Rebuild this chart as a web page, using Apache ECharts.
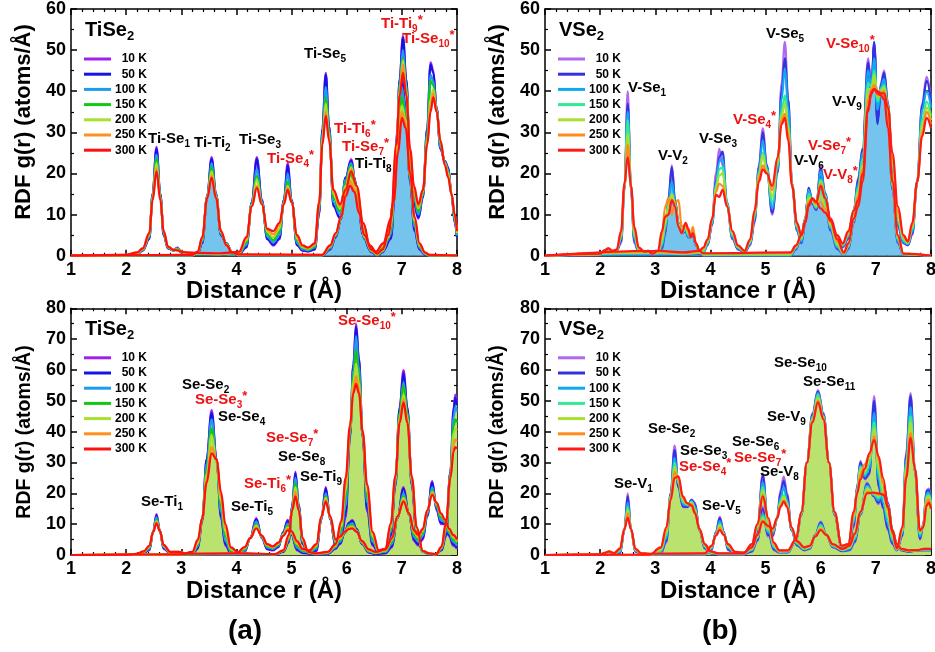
<!DOCTYPE html>
<html><head><meta charset="utf-8">
<script src="https://cdn.jsdelivr.net/npm/echarts@6/dist/echarts.min.js"></script>
<style>html,body{margin:0;padding:0;background:#fff}#c{width:935px;height:652px}</style>
</head><body><div id="c"></div>
<script>
const TEMPS = ['10 K','50 K','100 K','150 K','200 K','250 K','300 K'];

// ---------- TiSe2 (Ti centred), top-left: A = Ti-Se lines, B = Ti-Ti (filled) ----------
const tlAx = [1.0,2.0,2.2,2.3,2.42,2.48,2.55,2.62,
 2.68,2.76,2.86,2.93,3.0,3.1,3.3,3.7,
 3.92,4.05,4.18,4.28,4.37,4.46,4.56,4.67,
 4.78,4.86,4.93,5.0,5.1,5.2,5.3,5.42,
 5.5,5.56,5.62,5.68,5.76,5.88,5.98,6.08,
 6.18,6.3,6.42,6.53,6.66,6.8,6.9,6.96,
 7.02,7.08,7.15,7.22,7.3,7.38,7.46,7.52,
 7.57,7.63,7.7,7.78,7.84,7.9,7.96,8.0];
const tlA10 = [0,0,0.3,1.2,4,15,26.5,15,
 5,1.8,1.3,2,0.8,0.2,0.2,0.3,
 0.5,0.4,2,13,24,13.5,4,2.5,
 4,13.5,22.5,13.5,2.5,1.2,1,1.5,
 10,31,44.5,31.5,12,9,19,23.5,
 15,5,1.5,0.3,1.2,4,23,43,
 53.5,43,21,12.5,9,14,31,47,
 45,36,26,23,21.5,15,8,4.5];
const tlA50 = [0,0,0.3,1.3,4.2,15,26,15,
 5,1.8,1.3,1.9,0.8,0.3,0.2,0.3,
 0.5,0.5,2.1,13,23.5,13.5,4.1,2.7,
 4.2,13.5,22,13.5,2.6,1.3,1.1,1.6,
 10.2,31,44,31.5,12.2,9.2,19,23,
 15.2,5.1,1.5,0.4,1.3,4.2,23.2,42.8,
 53,42.8,21.2,12.8,9.3,14.2,31,46.5,
 44.5,35.8,26,23,21.4,15,8.1,4.6];
const tlA100 = [0,0,0.4,1.4,4.5,14.8,24.5,14.8,
 5.3,1.9,1.3,1.8,0.9,0.4,0.3,0.3,
 0.5,0.6,2.6,12.8,21,13.2,4.7,3.2,
 5,13.3,20,13.3,3.1,1.6,1.3,2,
 10.8,30,41,30.6,13,10,18.5,22.5,
 15.6,5.8,1.8,0.5,1.7,5.2,24,42,
 50,41.5,22.5,14,10,14.6,30,44,
 42.5,35.8,26.4,22.8,21,15,8.5,4.9];
const tlA150 = [0,0.1,0.5,1.5,4.8,14.5,23.5,14.5,
 5.5,2,1.3,1.7,0.9,0.5,0.4,0.4,
 0.6,0.7,3.2,12.5,19.5,12.9,5.3,3.8,
 5.8,13,18,13.1,3.7,1.9,1.5,2.3,
 11.5,29,38.5,29.8,14,10.8,18,22,
 16,6.5,2,0.7,2.1,6.3,25,41,
 48,40.8,23.5,15,10.8,15,29,42.5,
 41.5,35.5,27,22.6,20.5,15,9,5.2];
const tlA200 = [0,0.1,0.6,1.6,5,14.2,22.5,14.2,
 5.7,2.1,1.4,1.5,1,0.6,0.5,0.4,
 0.6,0.8,3.7,12.3,18.5,12.7,5.8,4.5,
 6.6,12.8,17,13,4.2,2.1,1.7,2.6,
 12.2,28.5,37,29,15,11.5,17,21.5,
 16.4,7.1,2.2,0.8,2.5,7.3,25.8,40,
 47.5,40,24.5,15.8,11.5,15.4,28,38,
 40.5,35.3,27.5,22.4,20,15,9.4,5.5];
const tlA250 = [0,0.2,0.7,1.7,5.3,13.8,21.2,13.8,
 5.9,2.2,1.4,1.4,1,0.7,0.6,0.5,
 0.7,0.9,4.1,12.1,17,12.6,6.2,5.2,
 7.4,12.6,16.5,13,4.6,2.3,1.9,2.8,
 12.6,27.8,35,28.5,15.5,12,16.5,21,
 16.7,7.6,2.4,0.9,2.8,8.2,26.4,39.5,
 46.5,39.5,25.3,16.5,12,15.7,27.5,36.5,
 39.5,35.2,27.8,22.2,19.5,15,9.7,5.8];
const tlA300 = [0,0.2,0.8,1.8,5.5,13.5,20.5,13.5,
 6,2.2,1.4,1.3,1,0.8,0.7,0.6,
 0.8,1,4.5,12,16.5,12.5,6.5,6,
 8,12.5,16,13,5,2.5,2,3,
 13,27,34,28,16,12.5,16,20.5,
 17,8,2.5,1,3,9,27,39,
 44.5,39,26,17,12.5,16,27,35,
 38.5,35,28,22,19,15,10,6];

const tlBx = [1.0,3.2,3.3,3.38,3.47,3.55,3.63,3.72,
 3.82,3.92,4.05,5.55,5.7,5.8,5.9,5.98,
 6.06,6.14,6.22,6.32,6.45,6.55,6.65,6.75,
 6.85,6.93,7.0,7.07,7.15,7.23,7.32,7.42,
 7.5,8.0];
const tlB10 = [0,0,0.6,3,14.5,24,15,5,
 3,0.8,0,0,1.5,4.5,9,17,
 22.5,19,11,4,0.8,0,0.8,3.5,
 13,32,43.5,36,18,6,1.5,0.2,
 0,0];
const tlB50 = [0,0,0.6,3.1,14.5,23.5,15,5,
 3,0.8,0,0,1.6,4.6,9,16.8,
 22.2,18.9,11,4.1,0.9,0,0.9,3.6,
 13,31.5,43,35.8,18.2,6.2,1.6,0.3,
 0,0];
const tlB100 = [0,0.1,0.7,3.4,14.4,22.5,14.8,5.3,
 2.9,0.8,0.1,0,1.8,4.8,9.1,16.3,
 21.2,18.3,10.9,4.2,1,0.1,1,3.9,
 13,30,41,35,18.7,7,1.9,0.4,
 0,0];
const tlB150 = [0,0.1,0.8,3.8,14.3,21.5,14.6,5.5,
 2.8,0.8,0.1,0.1,2,5,9.2,15.8,
 20,17.5,10.8,4.4,1.1,0.2,1.1,4.2,
 13,28.5,38.5,34,19.1,7.8,2.2,0.5,
 0.1,0];
const tlB200 = [0,0.1,0.9,4.1,14.2,20.5,14.4,5.7,
 2.7,0.8,0.2,0.1,2.2,5.2,9.3,15.3,
 19,16.8,10.7,4.6,1.2,0.3,1.2,4.5,
 13,27.5,36.5,33,19.5,8.5,2.5,0.6,
 0.1,0];
const tlB250 = [0,0.2,1,4.3,14.1,19.5,14.2,5.9,
 2.6,0.8,0.2,0.2,2.4,5.4,9.4,14.9,
 18,16.2,10.6,4.8,1.4,0.4,1.4,4.8,
 13,26,35,32,19.8,9,2.8,0.7,
 0.2,0];
const tlB300 = [0,0.2,1,4.5,14,19,14,6,
 2.5,0.8,0.3,0.2,2.5,5.5,9.5,14.5,
 17,15.5,10.5,5,1.5,0.5,1.5,5,
 13,25,33.5,31,20,9.5,3,0.8,
 0.2,0];

// ---------- VSe2 (V centred), top-right: A = V-Se lines, B = V-V (filled) ----------
const trAx = [1.0,2.0,2.08,2.15,2.22,2.3,2.38,2.44,
 2.5,2.56,2.62,2.7,2.8,2.87,2.95,3.05,
 3.5,3.8,3.87,3.95,4.03,4.1,4.16,4.22,
 4.3,4.4,4.5,4.62,4.72,4.8,4.88,4.95,
 5.02,5.12,5.22,5.29,5.35,5.41,5.48,5.57,
 5.65,5.72,5.78,5.85,5.92,6.0,6.08,6.18,
 6.3,6.4,6.5,6.6,6.68,6.76,6.86,6.92,
 6.97,7.03,7.09,7.15,7.22,7.3,7.4,7.5,
 7.58,7.66,7.75,7.84,7.92,8.0];
const trA10 = [0,0.3,1.2,1.6,1,1.2,3,16,
 40,16,3,0.8,0.8,1.2,0.5,0.2,
 0.2,0.5,0.8,2.5,8,20,26,22,
 12,4,1.5,0.8,2.5,8,22,31,
 22,10,20,42,52,38,17,6,
 3,8,16.5,13,12,22,15,7,
 3,2,4,11,19,26,48,40,
 51,33,42,45,37,20,7,3,
 2.5,5,18,37,43.5,38];
const trA50 = [0,0.3,1.2,1.6,1,1.2,3.5,16.2,
 37,16.2,3.5,0.9,0.8,1.2,0.5,0.3,
 0.2,0.5,0.8,2.6,7.5,18,24,25.3,
 13,4.2,1.6,0.8,2.7,8.5,21.5,30,
 22,10.5,20.5,40,48,38,17.5,6.2,
 3.1,8.2,16.5,13.2,12.2,21,15.2,7.2,
 3.2,2.2,4.2,11,18.5,26,47,40,
 52,32,41.5,44.5,37,20.5,7.3,3.1,
 2.6,5.3,18,36.5,42.5,37.5];
const trA100 = [0,0.3,1.2,1.6,1,1.3,4,16.4,
 35,16.4,4,1,0.8,1.2,0.5,0.4,
 0.3,0.6,0.9,2.8,7.8,17.5,23,23.5,
 12.8,4.5,1.8,0.9,2.9,9,21,28,
 21.5,11.5,21,38,45.5,36,17.5,6.5,
 3.4,8.3,16,13.2,12.3,20.5,15,7.4,
 3.5,2.4,4.6,11,17.5,25,45,41,
 48,36,41,43,36.5,21,7.8,3.3,
 2.8,5.8,18,35.5,40,36];
const trA150 = [0,0.3,1.3,1.7,1.1,1.3,4.5,16.6,
 33,16.6,4.8,1.3,0.9,1.2,0.5,0.6,
 0.4,0.7,1.1,3.2,8.3,17,21,21.5,
 12.5,5,2,1,3.2,9.8,20,25,
 21,13,22,35,39,32,17.5,7,
 3.9,8.5,15,13.3,12.5,18.5,14.6,7.8,
 3.9,2.6,5,11,16.5,23.5,42,41,
 45,38,40.5,41.5,36.3,21.8,8.5,3.8,
 3,6.5,18,33,37.5,34];
const trA200 = [0,0.4,1.3,1.7,1.1,1.4,5,16.8,
 29.5,16.8,5.5,1.5,0.9,1.2,0.5,0.8,
 0.5,0.8,1.4,3.5,8.6,16.3,19.5,20,
 12.3,5.3,2.2,1.1,3.5,10.3,19.5,24.5,
 20.5,14.5,22.8,34,37,31,17.3,7.4,
 4.3,8.4,14,13.5,12.7,18,14.4,8.2,
 4.3,2.8,5.4,11,15.5,22,40.5,40.5,
 44,39,40,41,36.2,22.8,9.5,4.2,
 3.2,7,18,31.5,36,33];
const trA250 = [0,0.4,1.3,1.8,1.2,1.5,5.5,17,
 27,17,6.2,1.8,1,1.1,0.5,1,
 0.6,1,1.7,3.8,8.8,15.5,17.5,17,
 12.2,5.7,2.4,1.2,3.8,10.7,19,22,
 20.3,16,23.5,33,34.5,29.5,17.2,7.7,
 4.7,8.2,13,13.8,12.9,17.5,14.2,8.6,
 4.6,2.9,5.7,11,14.5,21,38,40.5,
 41.5,40,39.8,40,36.1,23.9,10.8,4.6,
 3.4,7.5,18,30,35,32];
const trA300 = [0,0.5,1.3,1.8,1.2,1.5,6,17.5,
 24,17,7,2,1,1.1,0.5,1.2,
 0.8,1.2,2,4,9,14.8,14.3,16,
 12,6,2.5,1.2,4,11,18,21,
 20,17,24,32,33.5,28,17,8,
 5,8,12,14,13,17,14,9,
 5,3,6,11,13.5,20,36,39.5,
 40.5,40,39.5,39.5,36,25,12,5,
 3.5,8,18,29,33.5,31];

const trBx = [1.0,3.05,3.12,3.18,3.24,3.3,3.36,3.42,
 3.48,3.55,3.6,3.64,3.68,3.74,3.8,3.87,
 5.45,5.55,5.65,5.72,5.78,5.85,5.92,6.0,
 6.08,6.18,6.3,6.42,6.5,6.6,6.68,6.76,
 6.86,6.92,6.97,7.03,7.09,7.15,7.22,7.3,
 7.4,7.5,8.0];
const trB10 = [0,0.2,1.5,5,14,22,13,8,
 5.5,6,4.5,4.5,5,2.5,1,0,
 0,1.5,5,9,16,12.5,11,20.5,
 14,6,1.5,0.2,1.5,8,17,24,
 46,39,51,33,41,44,35,16,
 3,0.3,0];
const trB50 = [0,0.3,1.8,5.5,14,21.5,13.5,8,
 5.5,6,4.5,4.5,5,2.5,1,0,
 0,1.6,5,9,15.5,12.7,11.2,20,
 13.8,6.2,1.7,0.3,1.7,8.1,16.5,23.5,
 45,39.5,51.5,32.5,40.5,43.5,34.5,16.2,
 3.2,0.3,0];
const trB100 = [0,0.4,2.2,6.2,13.5,18,13,8,
 5.5,6.2,4.5,4.6,5.2,2.6,1,0.1,
 0.1,1.8,5,8.9,15,12.9,11.5,18.5,
 13.3,6.5,2,0.3,1.9,8.3,15.5,22.5,
 43,40,47.5,35.5,40,42,34,16.5,
 3.5,0.3,0];
const trB150 = [0,0.6,3,7.3,12.8,15,12.5,7.7,
 5.5,6.6,5,4.6,6,2.7,1.1,0.2,
 0.2,2,5,8.8,14.5,13.1,11.8,16.5,
 12.7,7,2.4,0.4,2.2,8.5,14.5,21.5,
 40.5,40,44.5,37.5,39.5,40.5,33.5,17,
 3.9,0.4,0];
const trB200 = [0,0.8,3.8,8,12,15,12.5,7.5,
 5.5,7,5.5,4.6,6.3,2.8,1.1,0.4,
 0.4,2.2,5,8.7,14,13.4,12.2,14.5,
 12,7.5,2.9,0.5,2.5,8.7,13.5,20.5,
 39,40,43,38.5,39.3,39.5,32.5,17.4,
 4.3,0.4,0];
const trB250 = [0,1,5,12,14,10,13,13.5,
 7,7.5,6,4.5,7,2.9,1.2,0.5,
 0.6,2.3,5,8.6,13.2,13.6,12.6,13,
 11.3,8,3.4,0.6,2.7,8.9,12.7,19.2,
 37,40,41.5,39,39.1,38.8,31.8,17.7,
 4.6,0.5,0];
const trB300 = [0,1.2,6,9.5,10,13.5,12,7,
 5.5,8,6.5,4.5,5.5,3,1.2,0.6,
 0.8,2.5,5,8.5,12.5,13.8,13,11.5,
 10.5,8.5,4,0.8,3,9,12,18,
 35,40,40.5,39.5,39,38,31,18,
 5,0.5,0];

// ---------- TiSe2 (Se centred), bottom-left: A = Se-Se (filled), B = Se-Ti ----------
const blAx = [1.0,3.0,3.2,3.3,3.38,3.46,3.55,3.64,
 3.72,3.8,3.9,4.05,4.7,4.85,4.95,5.01,
 5.07,5.13,5.2,5.3,5.45,5.65,5.8,5.9,
 5.98,6.06,6.12,6.17,6.22,6.29,6.37,6.47,
 6.58,6.7,6.8,6.88,6.96,7.03,7.1,7.18,
 7.27,7.38,7.5,7.62,7.72,7.8,7.88,7.94,
 7.97,8.0];
const blA10 = [0,0,0.2,2,11,31,47,31,
 12,3,0.5,0.2,0.2,1,4,16,
 27,16,3.5,0.5,0.2,0.3,2,5,
 12,38,62,75,64,38,14,3,
 0.5,1.5,6,22,48,60,48,22.5,
 6,1,0.3,0.3,1.5,6,27,48,
 52,49];
const blA50 = [0,0,0.3,2.3,11.5,31,46,31,
 12.5,3.5,0.6,0.2,0.2,1.1,4.3,16,
 26.5,16,3.8,0.6,0.2,0.4,2.2,5.8,
 13.5,39,61.5,74,63.5,38.5,15,3.5,
 0.6,1.6,6.6,22.5,47.5,59,47.5,23,
 6.5,1.1,0.3,0.3,1.7,6.6,27,47,
 51,48.5];
const blA100 = [0,0.1,0.4,2.8,12,29.5,44,30.5,
 14,4.5,1,0.3,0.2,1.3,4.8,15.5,
 25,15.5,4.2,0.7,0.3,0.5,2.5,7,
 16,39.5,60,71,61,38.5,17,4.3,
 0.8,1.7,7.5,23,46,56,46,23.5,
 7,1.1,0.3,0.3,2,7.5,26.5,45,
 48,46.5];
const blA150 = [0,0.1,0.6,3.3,12,27.5,41,30,
 16,6,1.4,0.3,0.2,1.3,5.2,15,
 23.5,15.2,4.5,0.8,0.3,0.7,2.8,8.2,
 19,40,57.5,66.5,58,39,19,5.2,
 1,1.8,8.3,23.8,46,55,46,24,
 7.6,1.2,0.4,0.3,2.2,8.5,26,42,
 44,43];
const blA200 = [0,0.1,0.8,3.8,12,26,39,30,
 17.5,7.5,1.8,0.4,0.3,1.4,5.6,14.8,
 22,14.8,4.8,0.9,0.4,0.8,3,9.3,
 21,41,56,62,56,39.5,20.5,6.2,
 1.2,1.9,9,24.5,44.5,52,44.5,24.5,
 8.2,1.2,0.4,0.2,2.4,9.5,25.5,39.5,
 41,40.5];
const blA250 = [0,0.2,0.9,4.4,12,24.5,35,31,
 19,8.8,2.2,0.5,0.3,1.5,6,14.5,
 20.5,14.6,5.2,1,0.5,0.9,3.3,10.2,
 23,41.5,54,58,54,39.8,21.7,7,
 1.4,2,9.7,25,43.5,50.5,43.5,25,
 8.6,1.3,0.5,0.2,2.6,10,25,36,
 37.5,37];
const blA300 = [0,0.2,1,5,12,23.5,33,31,
 20.5,10,2.5,0.5,0.3,1.5,6.5,14.5,
 19,14.5,5.5,1,0.5,1,3.5,11,
 25,42,52.5,55.5,52.5,40,22.8,7.5,
 1.5,2,10.3,25.4,42.8,49.5,42.8,25.4,
 9,1.3,0.5,0.2,2.7,10.6,25,33.7,
 35,34.5];

const blBx = [1.0,2.0,2.2,2.32,2.42,2.49,2.55,2.61,
 2.68,2.8,2.95,3.1,4.0,4.15,4.25,4.36,
 4.46,4.56,4.66,4.76,4.85,4.93,5.0,5.1,
 5.2,5.32,5.45,5.54,5.62,5.7,5.8,5.88,
 5.96,6.04,6.1,6.18,6.28,6.4,6.52,6.7,
 6.82,6.92,7.03,7.13,7.22,7.3,7.38,7.46,
 7.55,7.63,7.71,7.78,7.86,7.93,8.0];
const blB10 = [0,0,0.2,0.8,1.5,7.5,13.3,8,
 2,0.5,0.8,0.1,0.1,1,5.5,12,
 5.5,1.8,1.5,2.5,7.5,11.4,6.5,1.5,
 0.6,0.5,1.2,11.5,22,11.5,2.5,3.5,
 7,10.5,11.3,8.5,3.5,0.8,0.3,0.5,
 2.5,12,22,13,4.5,3,5,12.5,
 24,14.5,10,10,6,3,2];
const blB50 = [0,0,0.2,0.8,1.7,7.5,12.8,8,
 2.2,0.6,0.8,0.1,0.1,1.2,5.5,11.6,
 5.6,2,1.7,2.7,7.3,11,6.6,1.8,
 0.8,0.6,1.5,11.6,21.5,11.6,2.8,3.8,
 7.1,10.3,11,8.3,3.6,0.9,0.4,0.7,
 2.9,12,21.5,13,5,3.5,5.5,12.8,
 23.5,15,10.5,10.2,6.4,3.5,2.4];
const blB100 = [0,0,0.3,0.9,2,7.5,12.2,7.9,
 2.5,0.7,0.9,0.2,0.2,1.4,5.5,10.8,
 5.7,2.4,2,3,7,10.2,6.8,2.4,
 1.1,0.9,2,11.8,20,11.8,3.3,4.3,
 7.2,9.8,10.3,8,3.8,1.1,0.6,1,
 3.6,12.1,20,13.1,5.8,4.3,6.2,13.3,
 22,15.5,11.3,10.6,7,4.3,3];
const blB150 = [0,0,0.3,1,2.3,7.5,11.5,7.8,
 2.8,0.8,0.9,0.2,0.3,1.8,5.5,10,
 5.9,2.8,2.3,3.3,6.8,9.5,7.1,3,
 1.4,1.1,2.5,12,19,12,3.9,4.8,
 7.3,9.4,9.8,7.8,4,1.3,0.7,1.2,
 4.3,12.2,19,13.2,6.6,5,7,13.8,
 21,16,12.2,11,7.5,5,3.8];
const blB200 = [0,0,0.3,1.1,2.6,7.5,11,7.8,
 3,0.9,1,0.3,0.4,2.2,5.5,9.5,
 6,3.1,2.5,3.6,6.6,9,7.3,3.6,
 1.7,1.3,2.9,12.2,18.5,12.2,4.4,5.3,
 7.4,9,9.3,7.7,4.2,1.5,0.8,1.4,
 4.9,12.3,18.5,13.3,7.3,5.7,7.7,14.1,
 20.5,16.5,13,11.3,8,5.8,4.3];
const blB250 = [0,0.1,0.4,1.2,2.8,7.5,10.6,7.8,
 3.2,1,1,0.4,0.5,2.4,5.5,9,
 6.2,3.3,2.7,3.8,6.3,8.5,7.5,4,
 1.9,1.4,3.2,12.4,17.8,12.4,4.7,5.6,
 7.5,8.7,8.9,7.6,4.3,1.7,0.9,1.6,
 5.2,12.4,17.8,13.4,7.6,6.1,8.1,14.3,
 20,16.8,13.3,11.4,8.3,6.2,4.7];
const blB300 = [0,0.1,0.4,1.2,3,7.5,10.3,7.8,
 3.3,1,1,0.4,0.5,2.6,5.5,8.6,
 6.3,3.5,2.8,4,6.2,8,7.7,4.5,
 2,1.5,3.5,12.5,17.3,12.6,5,6,
 7.5,8.4,8.6,7.5,4.5,1.8,1,1.8,
 5.5,12.5,17.3,13.5,8,6.5,8.5,14.5,
 19.5,17,13.5,11.5,8.5,6.5,5];

// ---------- VSe2 (Se centred), bottom-right: A = Se-Se (filled), B = Se-V ----------
const brAx = [1.0,2.9,3.1,3.2,3.28,3.35,3.42,3.5,
 3.58,3.66,3.72,3.8,3.9,4.0,4.15,4.6,
 4.75,4.85,4.95,5.05,5.15,5.25,5.4,5.55,
 5.65,5.75,5.85,5.95,6.05,6.15,6.25,6.38,
 6.5,6.6,6.66,6.72,6.8,6.88,6.97,7.05,
 7.13,7.22,7.3,7.38,7.48,7.55,7.63,7.71,
 7.8,7.86,7.92,7.96,8.0];
const brA10 = [0,0,0.5,4,20,35.5,22,15.5,
 15.5,18,17,8,2,0.5,0.2,0.2,
 1.5,7,26.5,7,1.5,0.8,0.8,4.5,
 13,30,46,53.5,46,30,13,2.5,
 3,9,22,30.5,24.5,26,51.5,22,
 15,8,3.5,1.5,6,33,52.5,27,
 5,10,21,21.5,18];
const brA50 = [0,0,0.7,4.5,20,34,22,15.8,
 15.6,17.8,16.5,8,2.2,0.6,0.2,0.2,
 1.8,7.5,25.5,7.5,1.8,0.9,0.9,4.6,
 13.1,30,45.5,53,45.6,30,13.1,2.6,
 3.1,9.5,22,30,24.8,26.5,50,22.5,
 15.5,8.5,3.8,1.6,6.3,32.5,51.5,27,
 5.3,10,20.8,21,17.8];
const brA100 = [0,0,1,5.5,19.5,31.5,23,16.5,
 16,17.5,15.8,8.1,2.5,0.7,0.3,0.3,
 2.2,8,23.5,8.5,2.3,1,1,4.7,
 13.3,30,45,52.5,45.2,30,13.3,2.7,
 3.2,10.5,21.5,29,25.5,28,46,24.5,
 17,10,4.5,1.7,7,31,48,27.3,
 6,9.8,20,20.3,17.3];
const brA150 = [0,0,1.4,6.5,19,30,23.5,17.2,
 16.3,17.2,15,8.2,2.8,0.8,0.3,0.3,
 2.6,8.6,22,9.5,2.7,1.1,1.2,4.8,
 13.5,30,44.5,52,44.8,30,13.5,2.8,
 3.3,11.5,21,28.5,26.3,29.5,43,26.5,
 19,11.5,5.2,1.8,7.5,29.5,45,27.5,
 6.8,9.6,19,19.5,16.8];
const brA200 = [0,0,1.8,7.3,18.8,28.5,24,17.8,
 16.5,16.8,14.5,8.3,3.1,0.9,0.4,0.4,
 2.9,9.2,21,10.5,3.2,1.2,1.3,4.9,
 13.7,30,44,51,44.5,30,13.7,2.9,
 3.4,12.3,20.7,28,27,31,41,28.5,
 21,13,6.2,1.9,8,28,43,27.7,
 7.3,9.4,18.5,19,16.3];
const brA250 = [0,0,2.2,8.2,18.4,27,24.8,18.4,
 16.7,16.4,14,8.4,3.3,1.1,0.5,0.5,
 3.2,9.6,19.5,11.3,3.6,1.4,1.4,5,
 13.9,30,43.5,50,44.2,30,13.9,3,
 3.5,13.2,20.3,26,29.5,32,38.5,31,
 23,14.5,6.9,2.1,8.5,26,39.5,27.9,
 7.7,9.2,17.5,18,15.5];
const brA300 = [0,0.1,2.5,9,18,25,25.5,19,
 16.8,16,13.5,8.5,3.5,1.2,0.5,0.5,
 3.5,10,19,12,4,1.5,1.5,5,
 14,30,43,49.5,44,30,14,3,
 3.5,14,20,24.5,28,33,37.3,32,
 25,16,7.5,2.2,9,25,38,28,
 8,9,16,17,15];

const brBx = [1.0,2.0,2.1,2.16,2.25,2.36,2.44,2.5,
 2.56,2.64,2.75,2.9,3.9,4.02,4.1,4.17,
 4.24,4.32,4.45,4.6,4.75,4.85,4.95,5.04,
 5.13,5.21,5.27,5.33,5.39,5.47,5.57,5.7,
 5.8,5.9,6.0,6.1,6.22,6.4,6.52,6.62,
 6.72,6.84,6.96,7.05,7.14,7.22,7.3,7.38,
 7.46,7.6,7.75,7.88,8.0];
const brB10 = [0,0,0.3,0.5,0.3,0.5,8,20,
 8,1,0.2,0.1,0.1,1.5,7.5,12.4,
 7.5,1.5,0.4,0.3,1,4.5,15.7,6,
 6,12,21,25.4,20,8,3,1.5,
 2,6.5,10.8,6.6,2.5,1.2,1.5,4,
 13,23.5,19,16.5,22,17,8,3.5,
 1.5,1,1.5,1.5,1.5];
const brB50 = [0,0,0.3,0.6,0.3,0.7,8,19,
 8.2,1.2,0.3,0.2,0.2,1.8,7.3,12,
 7.5,1.8,0.5,0.4,1.2,4.8,15,6.5,
 6.4,11.8,20,24,19.2,8.1,3.2,1.6,
 2.1,6.4,10.5,6.6,2.6,1.3,1.7,4.4,
 13.1,23,19.2,17,22,16.8,8,3.5,
 1.6,1.1,1.5,1.6,1.6];
const brB100 = [0,0.1,0.4,0.7,0.4,1,8.1,17,
 8.2,1.4,0.3,0.2,0.2,2.1,7,11,
 7.2,2.3,0.6,0.5,1.5,5.3,13.5,7.3,
 7,11.8,18.5,22,18,8.3,3.5,1.8,
 2.3,6.3,10,6.6,2.8,1.5,2,5,
 13.3,22.5,19.5,17.7,21.5,16.5,8,3.5,
 1.7,1.2,1.5,1.7,1.7];
const brB150 = [0,0.1,0.5,0.8,0.4,1.4,8.2,15.5,
 8.3,1.6,0.4,0.3,0.3,2.4,6.8,10,
 7,2.7,0.7,0.6,1.8,5.7,12.5,8,
 7.6,11.9,17.5,19.5,17,8.5,3.8,2,
 2.5,6.2,9.5,6.5,3,1.6,2.3,5.6,
 13.5,22,19.7,18.5,21,16.2,8,3.5,
 1.8,1.3,1.5,1.8,1.8];
const brB200 = [0,0.1,0.6,1,0.5,1.8,8.3,14.5,
 8.3,1.7,0.4,0.3,0.4,2.6,6.6,9.5,
 6.8,3,0.8,0.7,2.1,6,11.8,8.6,
 8,12,16.8,19,16.5,8.7,4.1,2.2,
 2.7,6.1,9,6.5,3.2,1.8,2.6,6.2,
 13.8,21.5,20,19.2,20.5,15.9,8,3.5,
 1.9,1.4,1.6,1.9,1.9];
const brB250 = [0,0.2,0.7,1.1,0.5,2.2,8.4,13.5,
 8.4,1.9,0.5,0.4,0.5,2.8,6.4,8.8,
 6.6,3.3,0.9,0.8,2.3,6.3,11.2,9.1,
 8.3,12,16,17.8,16,8.9,4.3,2.4,
 2.8,6,8.5,6.5,3.4,1.9,2.8,6.6,
 13.9,20.5,20.1,19.6,20,15.7,8,3.5,
 2,1.5,1.6,2,2];
const brB300 = [0,0.2,0.8,1.2,0.6,2,8.4,12.1,
 8.4,2,0.5,0.4,0.5,3,6.3,8.1,
 6.5,3.5,1,0.8,2.5,6.5,10.8,9.5,
 8.6,12,15.5,17.3,15.5,9,4.5,2.5,
 3,6,8.1,6.5,3.5,2,3,7,
 14,20,20.2,20,19.5,15.5,8,3.5,
 2,1.5,1.6,2,2];

// ---------- styling ----------
const FONT = "'Liberation Sans', Arial, Helvetica, sans-serif";
const COL_TI = ['#a020f0','#1414e6','#1e9bf0','#12c812','#a8e02c','#ff9020','#ff1010'];
const COL_V  = ['#b068f0','#3232e0','#12a8f0','#30eb90','#a8e030','#ff8c1a','#ff1a1a'];
const RED = '#ee1111';
const SMOOTH = 0.4;

const panels = [
  {ymax:60, colors:COL_TI, ax:tlAx, ay:[tlA10,tlA50,tlA100,tlA150,tlA200,tlA250,tlA300],
   bx:tlBx, by:[tlB10,tlB50,tlB100,tlB150,tlB200,tlB250,tlB300], fill:'B', fillColor:'#74c4ee'},
  {ymax:60, colors:COL_V, ax:trAx, ay:[trA10,trA50,trA100,trA150,trA200,trA250,trA300],
   bx:trBx, by:[trB10,trB50,trB100,trB150,trB200,trB250,trB300], fill:'B', fillColor:'#74c4ee'},
  {ymax:80, colors:COL_TI, ax:blAx, ay:[blA10,blA50,blA100,blA150,blA200,blA250,blA300],
   bx:blBx, by:[blB10,blB50,blB100,blB150,blB200,blB250,blB300], fill:'A', fillColor:'#b9e26e'},
  {ymax:80, colors:COL_V, ax:brAx, ay:[brA10,brA50,brA100,brA150,brA200,brA250,brA300],
   bx:brBx, by:[brB10,brB50,brB100,brB150,brB200,brB250,brB300], fill:'A', fillColor:'#b9e26e'}
];
const gridBoxes = [
  {left:71, top:9, width:386, height:246.7},
  {left:545, top:9, width:386, height:246.7},
  {left:71, top:308.3, width:386, height:246.7},
  {left:545, top:308.3, width:386, height:246.7}
];

function zip(xs, ys){
  if (xs.length !== ys.length) console.error('length mismatch', xs.length, ys.length);
  const n = Math.min(xs.length, ys.length);
  const out = [];
  for (let i=0;i<n;i++) out.push([xs[i], ys[i]]);
  return out;
}

const xAxes = [], yAxes = [], series = [], legends = [];
panels.forEach((p, gi) => {
  const line = {show:true, onZero:false, lineStyle:{color:'#000', width:1.5}};
  const tick = {show:true, inside:true, length:6, lineStyle:{color:'#000', width:1.5}};
  xAxes.push({gridIndex:gi, type:'value', position:'bottom', min:1, max:8, interval:1,
    axisLine:line, axisTick:tick, splitLine:{show:false},
    minorTick:{show:true, splitNumber:5, length:3, lineStyle:{color:'#000', width:1.2}},
    axisLabel:{fontSize:18, fontWeight:'bold', color:'#000', fontFamily:FONT, margin:5},
    name:'Distance r (Å)', nameLocation:'middle', nameGap:23,
    nameTextStyle:{fontSize:24, fontWeight:'bold', color:'#000', fontFamily:FONT}});
  xAxes.push({gridIndex:gi, type:'value', position:'top', min:1, max:8, interval:1,
    axisLine:line, axisTick:tick, splitLine:{show:false},
    minorTick:{show:true, splitNumber:5, length:3, lineStyle:{color:'#000', width:1.2}},
    axisLabel:{show:false}});
  yAxes.push({gridIndex:gi, type:'value', position:'left', min:0, max:p.ymax, interval:10,
    axisLine:line, axisTick:tick, splitLine:{show:false},
    minorTick:{show:true, splitNumber:2, length:3, lineStyle:{color:'#000', width:1.2}},
    axisLabel:{fontSize:18, fontWeight:'bold', color:'#000', fontFamily:FONT, margin:5}});
  yAxes.push({gridIndex:gi, type:'value', position:'right', min:0, max:p.ymax, interval:10,
    axisLine:line, axisTick:tick, splitLine:{show:false},
    minorTick:{show:true, splitNumber:2, length:3, lineStyle:{color:'#000', width:1.2}},
    axisLabel:{show:false}});
  const xi = gi*2, yi = gi*2;
  const fillData = p.fill === 'B' ? zip(p.bx, p.by[0]) : zip(p.ax, p.ay[0]);
  series.push({type:'line', xAxisIndex:xi, yAxisIndex:yi, data:fillData, smooth:SMOOTH,
    smoothMonotone:'x', showSymbol:false, symbol:'none', silent:true, z:1,
    lineStyle:{width:0, opacity:0}, areaStyle:{color:p.fillColor, opacity:1}});
  for (let t=0; t<7; t++){
    const common = {type:'line', name:TEMPS[t], xAxisIndex:xi, yAxisIndex:yi, smooth:SMOOTH,
      smoothMonotone:'x', showSymbol:false, symbol:'none', z:2, color:p.colors[t],
      lineStyle:{width:2.2, color:p.colors[t]}, emphasis:{disabled:true}};
    series.push(Object.assign({}, common, {data:zip(p.ax, p.ay[t])}));
    series.push(Object.assign({}, common, {data:zip(p.bx, p.by[t])}));
  }
  const b = gridBoxes[gi];
  legends.push({orient:'vertical', left: b.left + 13, top: b.top + (gi<2 ? 44 : 43.5),
    itemWidth:27, itemHeight:3, itemGap:3.2, padding:0, icon:'rect', selectedMode:false,
    data: TEMPS.map((n,i)=>({name:n, itemStyle:{color:p.colors[i]}})),
    formatter: n => '{a|' + n + '}',
    textStyle:{fontSize:12, fontWeight:'bold', color:'#000', fontFamily:FONT, lineHeight:12,
      rich:{a:{width:31, align:'right', fontSize:12, fontWeight:'bold', fontFamily:FONT, color:'#000', lineHeight:12}}}});
});

// ---------- annotations ----------
const LABELS = [
  ['Ti-Se','1','',148,139,0],['Ti-Ti','2','',194,143,0],['Ti-Se','3','',239,140,0],
  ['Ti-Se','4','*',267,159,1],['Ti-Se','5','',304,54,0],['Ti-Ti','6','*',334,129,1],
  ['Ti-Se','7','*',342,147,1],['Ti-Ti','8','',355,164,0],['Ti-Ti','9','*',381,24,1],
  ['Ti-Se','10','*',402,39,1],
  ['V-Se','1','',628,88,0],['V-V','2','',658,156,0],['V-Se','3','',699,139,0],
  ['V-Se','4','*',733,120,1],['V-Se','5','',766,34,0],['V-V','6','',794,161,0],
  ['V-Se','7','*',808,146,1],['V-V','8','*',823,175,1],['V-V','9','',832,102,0],
  ['V-Se','10','*',826,44,1],
  ['Se-Ti','1','',141,502,0],['Se-Se','2','',182,385,0],['Se-Se','3','*',195,400,1],
  ['Se-Se','4','',218,417,0],['Se-Ti','5','',231,507,0],['Se-Ti','6','*',244,484,1],
  ['Se-Se','7','*',266,438,1],['Se-Se','8','',278,457,0],['Se-Ti','9','',300,477,0],
  ['Se-Se','10','*',338,321,1],
  ['Se-V','1','',614,484,0],['Se-Se','2','',648,429,0],['Se-Se','3','',680,451,0],
  ['Se-Se','4','*',679,467,1],['Se-V','5','',702,506,0],['Se-Se','6','',732,442,0],
  ['Se-Se','7','*',734,458,1],['Se-V','8','',760,472,0],['Se-V','9','',767,417,0],
  ['Se-Se','10','',774,363,0],['Se-Se','11','',803,382,0]
];
function rich(main, sub, star, x, y, color, size, subSize){
  return {type:'text', x:x, y:y, z:100, silent:true,
    style:{text:'{m|'+main+'}{s|'+sub+'}'+(star?'{t|*}':''), align:'left', verticalAlign:'middle',
      rich:{
        m:{fontSize:size, fontWeight:'bold', fontFamily:FONT, fill:color, lineHeight:size+5},
        s:{fontSize:subSize, fontWeight:'bold', fontFamily:FONT, fill:color, lineHeight:subSize, verticalAlign:'bottom'},
        t:{fontSize:size-2, fontWeight:'bold', fontFamily:FONT, fill:color, lineHeight:size-2, verticalAlign:'top'}
      }}};
}
const graphics = LABELS.map(l => rich(l[0], l[1], l[2], l[3], l[4], l[5] ? RED : '#000', 15, 10));
[['Ti','Se',85,30],['V','Se',559,30],['Ti','Se',85,329],['V','Se',559,329]].forEach(t => {
  graphics.push(rich(t[0]+t[1], '2', '', t[2], t[3], '#000', 20, 13));
});
[[24,122,22],[498,122,22],[25,432,19.5],[498,432,19.5]].forEach(a => {
  graphics.push({type:'text', x:a[0], y:a[1], rotation:Math.PI/2, z:100, silent:true,
    style:{text:'RDF g(r) (atoms/Å)', align:'center', verticalAlign:'middle',
      fontSize:a[2], fontWeight:'bold', fontFamily:FONT, fill:'#000'}});
});
[['(a)',245,631],['(b)',720,631]].forEach(a => {
  graphics.push({type:'text', x:a[1], y:a[2], z:100, silent:true,
    style:{text:a[0], align:'center', verticalAlign:'middle', fontSize:28, fontWeight:'bold',
      fontFamily:FONT, fill:'#000'}});
});

const chart = echarts.init(document.getElementById('c'), null, {renderer:'canvas'});
chart.setOption({
  animation:false, backgroundColor:'#fff',
  grid: gridBoxes.map(b => Object.assign({containLabel:false, outerBoundsMode:'none'}, b)),
  xAxis:xAxes, yAxis:yAxes, series:series, legend:legends, graphic:graphics
});
</script></body></html>
